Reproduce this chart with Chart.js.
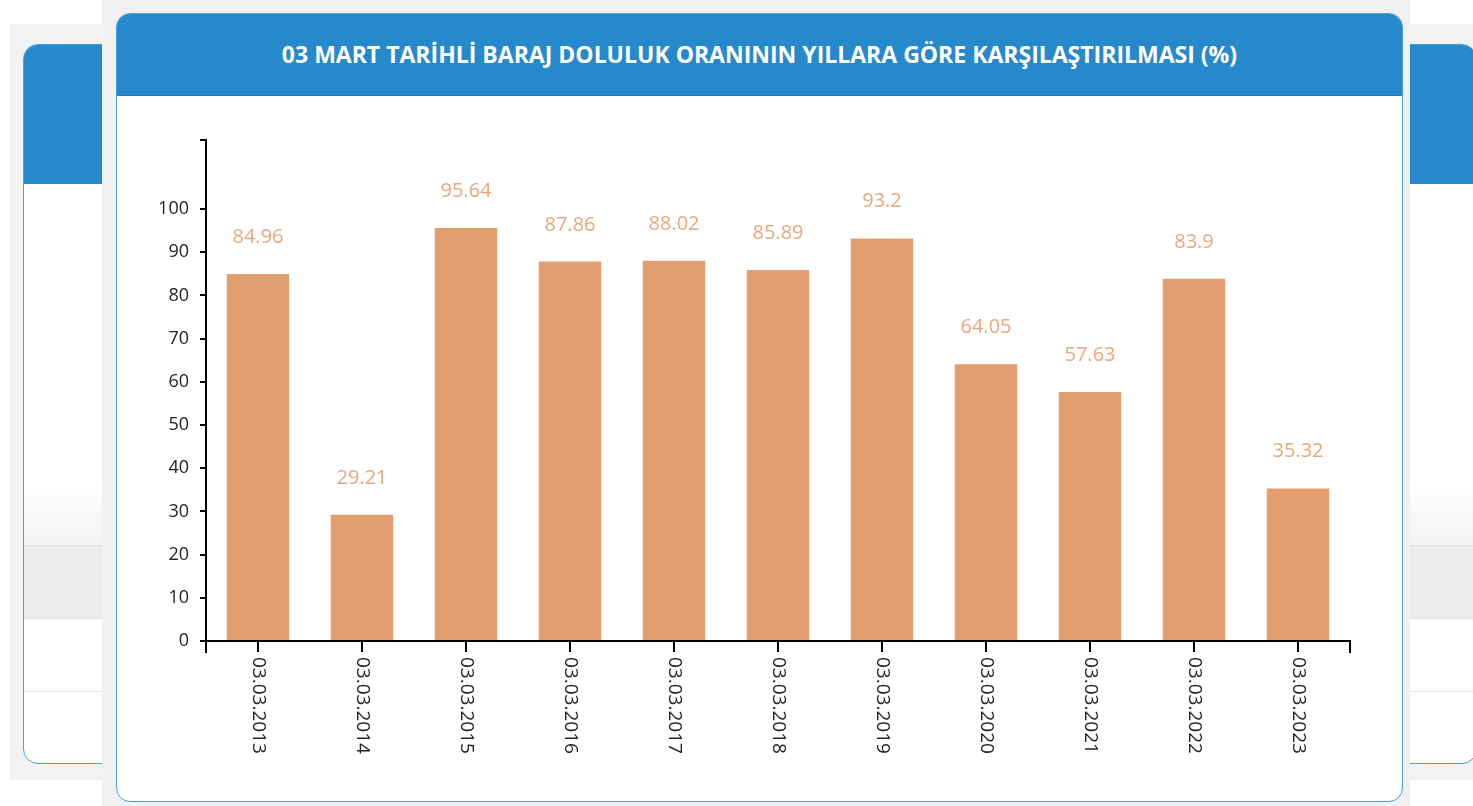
<!DOCTYPE html>
<html>
<head>
<meta charset="utf-8">
<title>Baraj Doluluk</title>
<script src="https://cdn.jsdelivr.net/npm/chart.js@4.4.1/dist/chart.umd.min.js"></script>
<style>
  html, body { margin: 0; padding: 0; background: #fff; width: 1473px; height: 806px; overflow: hidden; font-family: "Open Sans", sans-serif; }
  .back-shadow { position: absolute; left: 10px; top: 24px; width: 1480px; height: 756px; background: #f2f2f2; }
  .back-card { position: absolute; left: 23px; top: 44px; width: 1452px; height: 718px; border: 1px solid #4a9fdc; border-radius: 15px; background: #fff; overflow: hidden; }
  .back-card .head { height: 139px; background: #2589cc; }
  .back-card .fade { position: absolute; left: 0; right: 0; top: 436px; height: 64px; background: linear-gradient(#fff, #f3f3f3); }
  .back-card .band { position: absolute; left: 0; right: 0; top: 500px; height: 72px; background: #ececee; border-top: 1px solid #dedede; border-bottom: 1px solid #e2e2e2; }
  .back-card .line { position: absolute; left: 0; right: 0; top: 646px; border-top: 1px solid #e4e4e4; }
  .front-shadow { position: absolute; left: 102px; top: 0; width: 1308px; height: 806px; background: #f1f1f1; }
  .card { position: absolute; left: 116px; top: 13px; width: 1285px; height: 787px; border: 1px solid #4a9fdc; border-radius: 14px; background: #fff; overflow: hidden; }
  .card .head { height: 81px; background: #2589cc; border-bottom: 1px solid #1f7bbb; color: #fff; font-weight: 700; font-size: 23px; text-align: center; line-height: 81px; }
  .chart-box { position: absolute; left: 0; top: 82px; width: 1285px; height: 705px; }
</style>
</head>
<body>
<div class="back-shadow"></div>
<div class="back-card">
  <div class="head"></div>
  <div class="fade"></div>
  <div class="band"></div>
  <div class="line"></div>
</div>
<div class="front-shadow"></div>
<div class="card">
  <div class="head">03 MART TARİHLİ BARAJ DOLULUK ORANININ YILLARA GÖRE KARŞILAŞTIRILMASI (%)</div>
  <div class="chart-box"><canvas id="barajchart" width="1285" height="705"></canvas></div>
</div>

<script>
// data
const dates = ['03.03.2013', '03.03.2014', '03.03.2015', '03.03.2016', '03.03.2017', '03.03.2018',
  '03.03.2019', '03.03.2020', '03.03.2021', '03.03.2022', '03.03.2023'];
const fillRates = [84.96, 29.21, 95.64, 87.86, 88.02, 85.89, 93.2, 64.05, 57.63, 83.9, 35.32];
const yTickLabels = [0, 10, 20, 30, 40, 50, 60, 70, 80, 90, 100];
const yAxisTop = 116;

Chart.defaults.font.family = '"Open Sans", sans-serif';

// value above each bar
const barLabels = {
  id: 'barLabels',
  afterDatasetsDraw(chart) {
    const ctx = chart.ctx;
    const meta = chart.getDatasetMeta(0);
    ctx.save();
    ctx.font = '20px "Open Sans"';
    ctx.fillStyle = '#eba67c';
    ctx.textAlign = 'center';
    ctx.textBaseline = 'alphabetic';
    meta.data.forEach((bar, i) => {
      ctx.fillText(String(fillRates[i]), bar.x, bar.y - 31);
    });
    ctx.restore();
  }
};

// end ticks of the x axis and the date labels turned clockwise
const xAxisExtras = {
  id: 'xAxisExtras',
  afterDraw(chart) {
    const ctx = chart.ctx;
    const area = chart.chartArea;
    const xs = chart.scales.x;
    ctx.save();
    ctx.strokeStyle = '#000';
    ctx.lineWidth = 2;
    ctx.beginPath();
    [area.left, area.right].forEach(x => {
      ctx.moveTo(x, area.bottom);
      ctx.lineTo(x, area.bottom + 12);
    });
    ctx.stroke();
    ctx.font = '19px "Open Sans"';
    ctx.fillStyle = '#22222e';
    ctx.textAlign = 'left';
    ctx.textBaseline = 'middle';
    dates.forEach((d, i) => {
      ctx.save();
      ctx.translate(xs.getPixelForTick(i), area.bottom + 16);
      ctx.rotate(Math.PI / 2);
      ctx.fillText(d, 0, 0);
      ctx.restore();
    });
    ctx.restore();
  }
};

const barajdata = {
  labels: dates,
  datasets: [{
    label: 'Doluluk (%)',
    data: fillRates,
    backgroundColor: '#e29e6f',
    borderWidth: 0,
    barPercentage: 0.6,
    categoryPercentage: 1
  }]
};

const barajconfig = {
  type: 'bar',
  data: barajdata,
  options: {
    responsive: false,
    animation: false,
    layout: { padding: { top: 44, right: 52, left: 0, bottom: 0 } },
    scales: {
      x: {
        offset: true,
        grid: { offset: false, drawOnChartArea: false, drawTicks: true, tickLength: 11, color: '#000', lineWidth: 2 },
        border: { display: true, color: '#000', width: 2 },
        ticks: { display: false },
        afterFit(scale) { scale.height = 160; }
      },
      y: {
        min: 0,
        max: yAxisTop,
        afterBuildTicks(scale) {
          scale.ticks = yTickLabels.concat([yAxisTop]).map(v => ({ value: v }));
        },
        ticks: {
          color: '#22222e',
          font: { size: 18 },
          padding: 11,
          callback(v) { return yTickLabels.includes(v) ? String(v) : ''; }
        },
        grid: { drawOnChartArea: false, drawTicks: true, tickLength: 6, color: '#000', lineWidth: 2 },
        border: { display: true, color: '#000', width: 2 },
        afterFit(scale) { scale.width = 89; }
      }
    },
    plugins: {
      legend: { display: false },
      tooltip: { enabled: false }
    }
  },
  plugins: [barLabels, xAxisExtras]
};

const barajchart = new Chart(
  document.getElementById('barajchart'),
  barajconfig
);
</script>
</body>
</html>
